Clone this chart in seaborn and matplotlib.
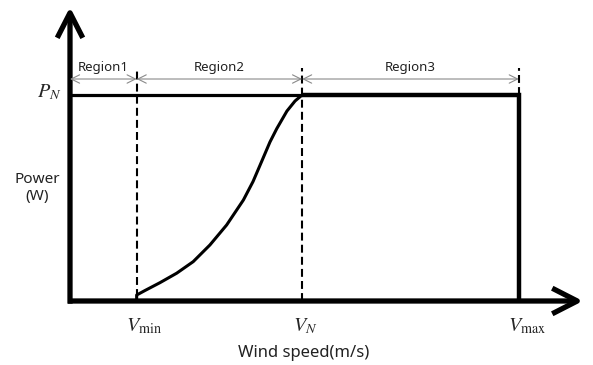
import matplotlib
matplotlib.use("Agg")
import matplotlib.pyplot as plt
import seaborn as sns
import pandas as pd

sns.set_style("white")
plt.rcParams['font.family'] = ['Noto Sans', 'DejaVu Sans']
plt.rcParams['mathtext.fontset'] = 'stix'

# characteristic wind speeds (m/s) and rated power (normalised)
v_min = 3.03
v_rated = 10.55
v_max = 20.4
p_rated = 1.0

# region 2 power curve
wind_curve = [3.03, 3.03, 3.41, 4.09, 4.85, 5.60, 6.36, 7.12, 7.88, 8.32,
              8.71, 9.09, 9.40, 9.86, 10.23, 10.55]
power_curve = [0.0, 0.029, 0.051, 0.089, 0.135, 0.191, 0.272, 0.369, 0.490, 0.580,
               0.677, 0.772, 0.837, 0.922, 0.971, 1.0]

region_names = ['Region1', 'Region2', 'Region3']
region_bounds = [0.0, v_min, v_rated, v_max]
tick_labels = [r'$V_{\mathrm{min}}$', r'$V_N$', r'$V_{\mathrm{max}}$']

fig = plt.figure(figsize=(5.93, 3.65), dpi=100)
ax = fig.add_axes([0, 0, 1, 1])
ax.set_xlim(-3.182, 23.773)
ax.set_ylim(-0.3107, 1.4612)
ax.axis('off')

# axes with arrows
head = '->,head_length=0.9,head_width=0.46'
ax.annotate('', xy=(23.32, 0), xytext=(-0.09, 0),
            arrowprops=dict(arrowstyle=head, lw=3.8, color='black', capstyle='butt',
                            shrinkA=0, shrinkB=0, mutation_scale=20))
ax.annotate('', xy=(0, 1.427), xytext=(0, -0.013),
            arrowprops=dict(arrowstyle=head, lw=3.8, color='black', capstyle='butt',
                            shrinkA=0, shrinkB=0, mutation_scale=20))

# rated power line across region 1-2 (thinner)
ax.plot([0, v_rated], [p_rated, p_rated], color='black', lw=2.3, solid_capstyle='butt')

# power curve in region 2
df = pd.DataFrame({'wind': wind_curve, 'power': power_curve})
sns.lineplot(data=df, x='wind', y='power', sort=False, estimator=None, color='black',
             lw=2.2, solid_joinstyle='round', ax=ax)

# region 3: rated power then cut-out
ax.plot([v_rated, v_max, v_max], [p_rated, p_rated, 0], color='black', lw=3.2,
        solid_joinstyle='miter', solid_capstyle='butt')

# dashed guide lines
dash = (0, (3.8, 2.0))
ax.plot([v_min, v_min], [0.02, 1.13], color='black', lw=1.5, linestyle=dash)
ax.plot([v_rated, v_rated], [0.0, 1.13], color='black', lw=1.5, linestyle=dash)
ax.plot([v_max, v_max], [1.0, 1.13], color='black', lw=1.5, linestyle=dash)

# region arrows and labels
y_arrow = (301 - 79) / 206
for name, a, b in zip(region_names, region_bounds[:-1], region_bounds[1:]):
    ax.annotate('', xy=(b, y_arrow), xytext=(a, y_arrow),
                arrowprops=dict(arrowstyle='<->,head_length=0.6,head_width=0.3', lw=0.8,
                                color='#8a8a8a', shrinkA=0, shrinkB=0, mutation_scale=10))
    ax.text((a + b) / 2, (301 - 67) / 206, name, ha='center', va='center',
            fontsize=9.5, color='#222222')

# tick labels
for v, lab, dx in zip([v_min, v_rated, v_max], tick_labels, [5, 2, 6]):
    ax.annotate(lab, xy=(v, 0), xytext=(dx, -18), textcoords='offset points',
                ha='center', va='center', fontsize=14.5)
ax.annotate(r'$P_N$', xy=(0, p_rated), xytext=(-15, 2), textcoords='offset points',
            ha='center', va='center', fontsize=14.5)

ax.text(-1.5, (301 - 188) / 206, 'Power\n(W)', ha='center', va='center',
        fontsize=11, color='#222222', linespacing=1.2)
ax.text((304 - 70) / 22, (301 - 353) / 206, 'Wind speed(m/s)', ha='center', va='center',
        fontsize=12, color='#222222')

if ax.get_legend() is not None:
    ax.get_legend().remove()

plt.savefig('out.png', dpi=100)
plt.close()
